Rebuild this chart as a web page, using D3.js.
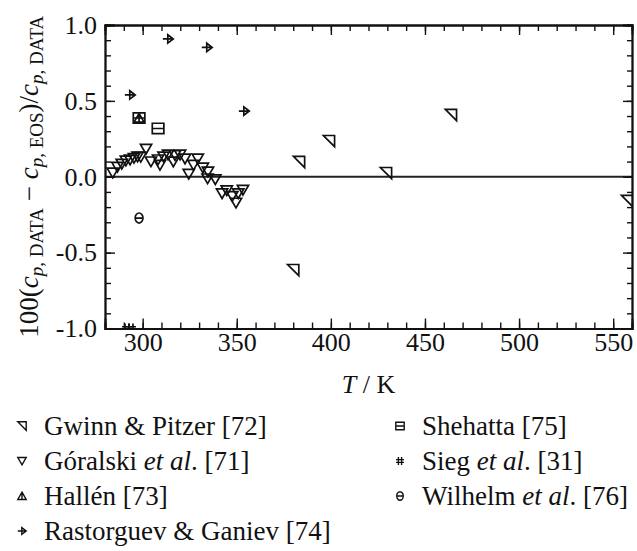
<!DOCTYPE html>
<html><head><meta charset="utf-8">
<script src="https://cdn.jsdelivr.net/npm/d3@7"></script>
<style>body{margin:0;background:#fff}svg{display:block}</style>
</head><body>
<svg id="c" width="637" height="551"></svg>
<script>
// ---- data ----
const gwinnT = [380.0, 383.1, 399.0, 429.3, 463.8, 557.4];
const gwinnV = [-0.615, 0.097, 0.235, 0.024, 0.407, -0.16];
const goralskiT = [284.1,286.6,288.9,291.1,293.3,295.4,297.3,299.0,301.8,304.4,308.2,309.2,311.1,313.5,316.3,317.2,319.9,322.5,324.5,327.0,329.3,332.0,334.7,334.5,338.6,342.2,344.7,347.6,349.6,350.8,353.3];
const goralskiV = [0.026,0.064,0.084,0.105,0.112,0.123,0.132,0.13,0.183,0.10,0.113,0.077,0.132,0.145,0.099,0.141,0.145,0.119,0.018,0.077,0.119,0.060,0.033,-0.012,-0.018,-0.11,-0.09,-0.128,-0.172,-0.11,-0.087];
const hallenT = [298.1];
const hallenV = [0.387];
const rastT = [293.3, 313.5, 334.2, 353.9];
const rastV = [0.539, 0.908, 0.852, 0.433];
const shehT = [298.1, 308.2];
const shehV = [0.387, 0.318];
const siegT = [291.7, 293.8];
const siegV = [-1.0, -1.0];
const wilT = [298.1];
const wilV = [-0.272];
const xTicks = [300, 350, 400, 450, 500, 550];
const yTicks = [-1.0, -0.5, 0.0, 0.5, 1.0];
const legendLabels = [
  ["Gwinn & Pitzer [72]"], ["Góralski ", "et al", ". [71]"], ["Hallén [73]"], ["Rastorguev & Ganiev [74]"],
  ["Shehatta [75]"], ["Sieg ", "et al", ". [31]"], ["Wilhelm ", "et al", ". [76]"]
];

// ---- layout ----
const FONT = "'Liberation Serif'";
const svg = d3.select("#c");
const L = 105, R = 632, T = 25, B = 328.5;
const x = d3.scaleLinear().domain([280, 560]).range([L, R]);
const y = d3.scaleLinear().domain([-1, 1]).range([B, T]);

svg.append("defs").append("clipPath").attr("id","pc").append("rect")
  .attr("x", L).attr("y", T).attr("width", R-L).attr("height", B-T);

// zero line
svg.append("line").attr("x1", L).attr("x2", R).attr("y1", y(0)).attr("y2", y(0))
  .attr("stroke", "#222").attr("stroke-width", 1.8);

// marker shapes
const shapes = {
  gwinn: s => `M${-s},${-s}L${s},${-s}L${s},${s}Z`,
  goralski: s => `M${-s},${-s*0.82}L${s},${-s*0.82}L0,${s*0.9}Z`,
  hallen: s => `M0,${-s*0.9}L${s},${s*0.82}L${-s},${s*0.82}ZM0,${-s*0.9}L0,${s*0.82}`,
  rast: s => `M${-s},0L${s},0M${-s*0.05},${-s*0.8}L${s},0L${-s*0.05},${s*0.8}Z`,
  sheh: s => `M${-s},${-s*0.9}L${s},${-s*0.9}L${s},${s*0.9}L${-s},${s*0.9}ZM${-s},0L${s},0`,
  sieg: s => `M${-s*0.4},${-s}L${-s*0.4},${s}M${s*0.4},${-s}L${s*0.4},${s}M${-s},${-s*0.35}L${s},${-s*0.35}M${-s},${s*0.35}L${s},${s*0.35}`,
  wil: s => { const rx=s*0.78, ry=s; return `M${-rx},0A${rx},${ry} 0 1 0 ${rx},0A${rx},${ry} 0 1 0 ${-rx},0ZM${-rx},0L${rx},0`; }
};

const series = [
  {k:"goralski", T:goralskiT, V:goralskiV, s:5.6},
  {k:"gwinn", T:gwinnT, V:gwinnV, s:5.6},
  {k:"sheh", T:shehT, V:shehV, s:5.8},
  {k:"hallen", T:hallenT, V:hallenV, s:5.0},
  {k:"rast", T:rastT, V:rastV, s:5.2},
  {k:"sieg", T:siegT, V:siegV, s:5.0},
  {k:"wil", T:wilT, V:wilV, s:5.0}
];
const gp = svg.append("g").attr("clip-path","url(#pc)");
series.forEach(se => {
  gp.selectAll(null).data(se.T.map((t,i)=>[t, se.V[i]])).enter().append("path")
    .attr("transform", d => `translate(${x(d[0])},${y(d[1])})`)
    .attr("d", shapes[se.k](se.s))
    .attr("fill", "none")
    .attr("stroke", "#111").attr("stroke-width", 1.7).attr("stroke-linejoin","miter");
});

// axes
const minorX = d3.range(280, 561, 10);
const minorY = d3.range(-10, 11).map(d => d/10);
const fs = 26;
function styleAxis(g){ g.attr("font-family", null).attr("font-size", null);
  g.select(".domain").attr("stroke","#111").attr("stroke-width",1.8);
  g.selectAll(".tick line").attr("stroke","#111").attr("stroke-width",1.4);
  g.selectAll("text").attr("fill","#111").style("font-family", FONT).style("font-size", fs+"px"); }

// minor ticks
svg.append("g").attr("transform",`translate(0,${B})`).call(d3.axisBottom(x).tickValues(minorX).tickSize(-6).tickFormat("")).call(styleAxis);
svg.append("g").attr("transform",`translate(0,${T})`).call(d3.axisTop(x).tickValues(minorX).tickSize(-6).tickFormat("")).call(styleAxis);
svg.append("g").attr("transform",`translate(${L},0)`).call(d3.axisLeft(y).tickValues(minorY).tickSize(-6).tickFormat("")).call(styleAxis);
svg.append("g").attr("transform",`translate(${R},0)`).call(d3.axisRight(y).tickValues(minorY).tickSize(-5).tickFormat("")).call(styleAxis);
// major ticks
svg.append("g").attr("transform",`translate(0,${B})`).call(d3.axisBottom(x).tickValues(xTicks).tickSize(-10).tickPadding(4).tickFormat(d=>String(d))).call(styleAxis);
svg.append("g").attr("transform",`translate(0,${T})`).call(d3.axisTop(x).tickValues(xTicks).tickSize(-10).tickFormat("")).call(styleAxis);
svg.append("g").attr("transform",`translate(${L},0)`).call(d3.axisLeft(y).tickValues(yTicks).tickSize(-10).tickPadding(8).tickFormat(d=>d.toFixed(1))).call(styleAxis);
svg.append("g").attr("transform",`translate(${R},0)`).call(d3.axisRight(y).tickValues(yTicks).tickSize(-9).tickFormat("")).call(styleAxis);

// x label
const xl = svg.append("text").attr("x", (L+R)/2).attr("y", 393).attr("text-anchor","middle").attr("fill","#111").style("font-family", FONT).style("font-size", fs+"px");
xl.append("tspan").style("font-style","italic").text("T");
xl.append("tspan").text(" / K");

// y label
const yfs = 27, ysub = 19;
const yl = svg.append("text").attr("transform",`translate(38,${(T+B)/2}) rotate(-90)`).attr("text-anchor","middle").attr("fill","#111").style("font-family", FONT).style("font-size", yfs+"px");
function sub(t, parts){ parts.forEach(p => t.append("tspan").style("font-size", ysub+"px").attr("baseline-shift","-28%").style("font-style",p[1]?"italic":"normal").text(p[0])); }
function main(t, s, it){ t.append("tspan").style("font-size", yfs+"px").style("font-style", it?"italic":"normal").text(s); }
main(yl, "100(", 0);
main(yl, "c", 1);
sub(yl, [["p",1],[", DATA",0]]);
main(yl, " \u2212 ", 0);
main(yl, "c", 1);
sub(yl, [["p",1],[", EOS",0]]);
main(yl, ")/", 0);
main(yl, "c", 1);
sub(yl, [["p",1],[", DATA",0]]);

// legend
const legKeys = ["gwinn","goralski","hallen","rast","sheh","sieg","wil"];
const legPos = [[0,0],[0,1],[0,2],[0,3],[1,0],[1,1],[1,2]];
const colX = [22, 400], rowY = [426, 461, 496, 531];
legKeys.forEach((k,i) => {
  const [c,r] = legPos[i];
  const g = svg.append("g").attr("transform",`translate(${colX[c]},${rowY[r]})`);
  g.append("path").attr("d", shapes[k](k==="sieg"?4:4.2)).attr("fill","none").attr("stroke","#111").attr("stroke-width",1.4);
  const t = g.append("text").attr("x", 22).attr("y", 9).attr("fill","#111").style("font-family", FONT).style("font-size","27px");
  legendLabels[i].forEach((p,j) => t.append("tspan").style("font-style", (legendLabels[i].length===3 && j===1) ? "italic" : "normal").text(p));
});
</script>
</body></html>
